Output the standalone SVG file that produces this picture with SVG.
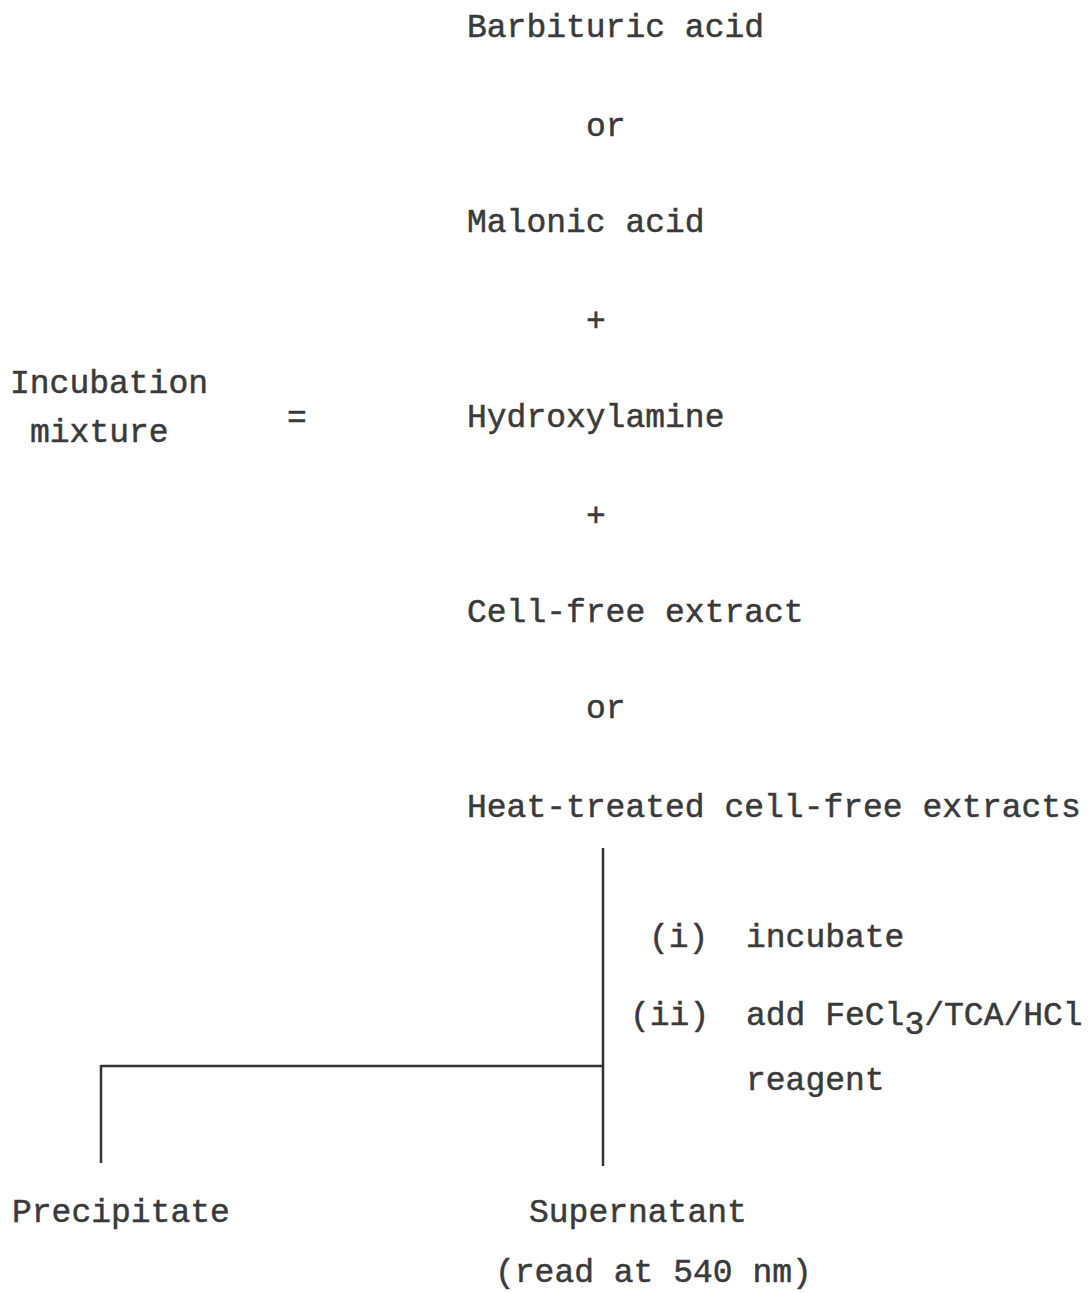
<svg xmlns="http://www.w3.org/2000/svg" width="1088" height="1293" viewBox="0 0 1088 1293">
<style>
text{font-family:"Liberation Mono","Courier New",monospace;font-size:33px;fill:#3a3a3a;stroke:#3a3a3a;stroke-width:0.5}
.ln{stroke:#333;stroke-width:2.5;fill:none}
</style>
<rect width="1088" height="1293" fill="#fff"/>
<g id="mixture-label">
<text x="10" y="393">Incubation</text>
<text x="30" y="442">mixture</text>
<text x="287" y="428">=</text>
</g>
<g id="components">
<text x="467" y="37">Barbituric acid</text>
<text x="586" y="136">or</text>
<text x="467" y="232">Malonic acid</text>
<text x="586" y="331">+</text>
<text x="467" y="427">Hydroxylamine</text>
<text x="586" y="526">+</text>
<text x="467" y="622">Cell-free extract</text>
<text x="586" y="718">or</text>
<text x="467" y="817">Heat-treated cell-free extracts</text>
</g>
<g id="steps">
<text x="649" y="947">(i)</text>
<text x="746" y="947">incubate</text>
<text x="630" y="1025">(ii)</text>
<text x="746" y="1025">add FeCl<tspan dy="9">3</tspan><tspan dy="-9">/TCA/HCl</tspan></text>
<text x="746" y="1090">reagent</text>
</g>
<g id="precipitate">
<text x="12" y="1222">Precipitate</text>
</g>
<g id="supernatant">
<text x="529" y="1222">Supernatant</text>
<text x="495" y="1282">(read at 540 nm)</text>
</g>
<g id="connectors">
<line class="ln" x1="603" y1="848" x2="603" y2="1166"/>
<line class="ln" x1="101" y1="1066" x2="603" y2="1066"/>
<line class="ln" x1="101" y1="1065" x2="101" y2="1163"/>
</g>
</svg>
